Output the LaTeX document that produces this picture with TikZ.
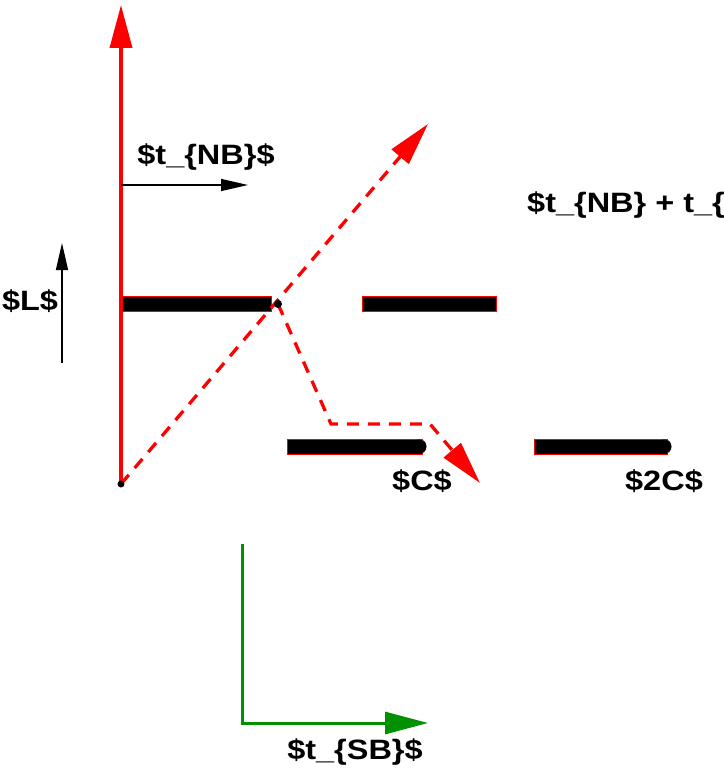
\documentclass[tikz,border=0pt]{standalone}
\usepackage{fontspec}
\setmainfont{Liberation Sans}
\newfontfamily\figfont[FakeStretch=1.16]{Liberation Sans}
\usetikzlibrary{arrows.meta}
\definecolor{figred}{RGB}{255,0,0}
\definecolor{figgreen}{RGB}{0,144,0}
\tikzset{
  lbl/.style={font=\figfont\bfseries\fontsize{28}{30}\selectfont, inner sep=0pt, anchor=base},
  bigtip/.style={-{Triangle[length=43pt,width=22pt]}},
  smalltip/.style={-{Triangle[length=27pt,width=12pt]}},
  redaxis/.style={draw=figred, line width=3.5pt},
  reddash/.style={draw=figred, line width=3.3pt, dash pattern=on 12pt off 9pt},
  slot/.style={fill=black, draw=figred, line width=1pt},
}
\begin{document}
\begin{tikzpicture}[x=1pt,y=-1pt]
  \useasboundingbox (0,0) rectangle (723,768);
  \clip (0,0) rectangle (723,768);

  % points
  \coordinate (O) at (121,484);
  \coordinate (Otop) at (121,5);
  \coordinate (knee) at (278,304);
  \coordinate (bend1) at (331,424);
  \coordinate (bend2) at (430,424);
  \coordinate (ctip) at (480,483);
  \coordinate (diagtip) at (428,124);

  % slots
  \path[slot] (121,296.5) rectangle (271,311.5);
  \path[slot] (362,296.5) rectangle (496,311.5);
  \fill (419,446.5) circle (7.5pt);
  \path[slot] (287,439) rectangle (422,454);
  \fill (664,446.5) circle (7.5pt);
  \path[slot] (534,439) rectangle (667,454);
  \fill (419,446.5) circle (7pt);
  \fill (664,446.5) circle (7pt);

  % axis
  \draw[redaxis, bigtip] (O) -- (Otop);

  % dashed paths
  \draw[reddash, bigtip] (O) -- (diagtip);
  \draw[reddash, bigtip] (knee) -- (bend1) -- (bend2) -- (ctip);
  \fill (O) circle (3.5pt);
  \fill (knee) circle (4pt);

  % t_NB
  \coordinate (nbA) at (121,185);
  \coordinate (nbB) at (248,185);
  \draw[line width=1.3pt, smalltip] (nbA) -- (nbB);
  \node[lbl] (tnb) at (206,164) {\$t\_\{NB\}\$};

  % L
  \coordinate (lA) at (62,363);
  \coordinate (lB) at (62,243);
  \draw[line width=1.3pt, smalltip] (lA) -- (lB);
  \node[lbl] (lL) at (30,310) {\$L\$};

  \node[lbl] (lC) at (422,490) {\$C\$};
  \node[lbl] (l2C) at (664,490) {\$2C\$};
  \node[lbl, anchor=base west] (lsum) at (527,212) {\$t\_\{NB\} + t\_\{};

  % t_SB
  \coordinate (sbTop) at (242,544);
  \coordinate (sbCorner) at (242,723);
  \coordinate (sbTip) at (428,723);
  \draw[draw=figgreen, line width=3pt, bigtip] (sbTop) -- (sbCorner) -- (sbTip);
  \node[lbl] (tsb) at (355,759) {\$t\_\{SB\}\$};
\end{tikzpicture}
\end{document}
